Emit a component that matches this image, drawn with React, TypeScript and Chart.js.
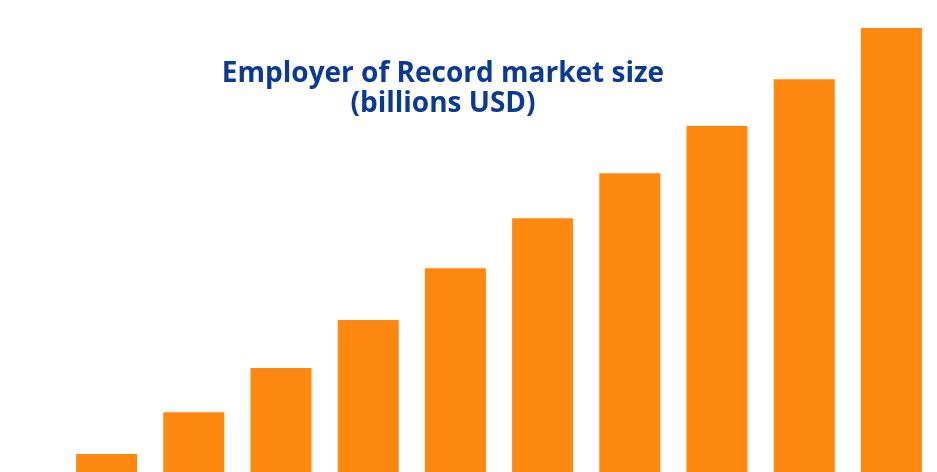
import { useEffect, useRef } from 'react';
import { Chart, registerables } from 'chart.js';

Chart.register(...registerables);

const years = ['2021', '2022', '2023', '2024', '2025', '2026', '2027', '2028', '2029', '2030'];
const marketSize = [0.4, 1.33, 2.31, 3.38, 4.53, 5.64, 6.64, 7.69, 8.73, 9.87];
const barColor = '#ff8810';
const titleLines = ['Employer of Record market size', '(billions USD)'];

const App = () => {
  const canvasRef = useRef<HTMLCanvasElement | null>(null);

  useEffect(() => {
    if (!canvasRef.current) return;
    const ctx = canvasRef.current.getContext('2d');
    if (!ctx) return;

    const chart = new Chart(ctx, {
      type: 'bar',
      data: {
        labels: years,
        datasets: [
          {
            data: marketSize,
            backgroundColor: barColor,
            borderWidth: 0,
            barPercentage: 0.7,
            categoryPercentage: 1,
          },
        ],
      },
      options: {
        animation: false,
        responsive: false,
        maintainAspectRatio: false,
        layout: { padding: { left: 63, right: 2, top: 0, bottom: 0 } },
        plugins: {
          legend: { display: false },
          title: { display: false },
          tooltip: { enabled: false },
        },
        scales: {
          x: { display: false },
          y: { display: false, min: 0, max: 10.49 },
        },
      },
    });

    return () => {
      chart.destroy();
    };
  }, []);

  return (
    <div style={{ position: 'fixed', left: 0, top: 0, width: 937, height: 472, background: '#fff' }}>
      <canvas ref={canvasRef} width={937} height={472} style={{ display: 'block' }}></canvas>
      <div
        style={{
          position: 'absolute',
          left: 143,
          width: 600,
          top: 56,
          textAlign: 'center',
          fontFamily: '"Open Sans", sans-serif',
          fontWeight: 700,
          fontSize: 28,
          lineHeight: '30px',
          color: '#0a3a94',
          whiteSpace: 'nowrap',
        }}
      >
        {titleLines.map((line) => (
          <div key={line}>{line}</div>
        ))}
      </div>
    </div>
  );
};

export default App;
